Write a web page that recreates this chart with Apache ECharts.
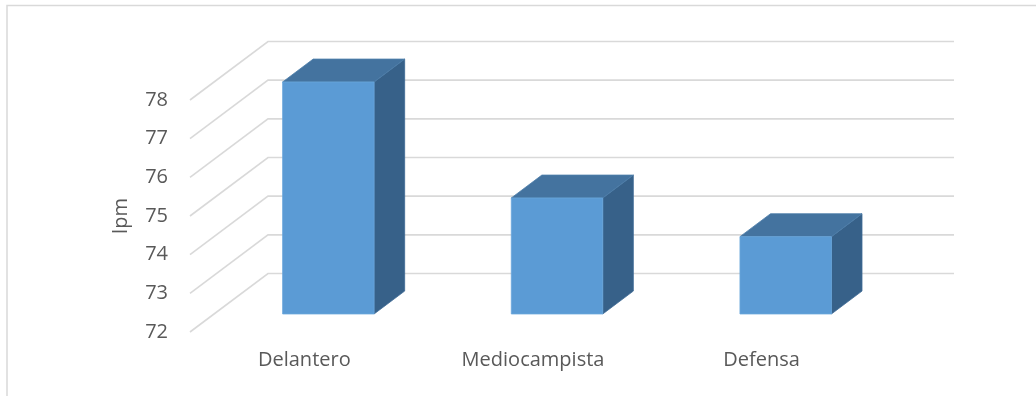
<!DOCTYPE html>
<html><head><meta charset="utf-8">
<script src="https://cdn.jsdelivr.net/npm/echarts@6/dist/echarts.min.js"></script>
<style>html,body{margin:0;padding:0;background:#fff}#c{width:1036px;height:396px}</style>
</head><body><div id="c"></div>
<script>
const categories = ['Delantero', 'Mediocampista', 'Defensa'];
const values = [78, 75, 74];
const yTicks = [72, 73, 74, 75, 76, 77, 78];
const yName = 'lpm';

const Y_MIN = 72, Y_MAX = 78;
const DX = 78, DY = 58.5;      // depth projection in pixels
const F1 = 0.308, F2 = 0.70;   // bar depth range (fraction of floor depth)
const BAR_W = 0.40;            // bar width as fraction of band
const FONT = 'Open Sans';
const TXT = '#595959';

const chart = echarts.init(document.getElementById('c'), null, {renderer: 'canvas'});

function renderGrid(params, api) {
  const v = api.value(0);
  const cs = params.coordSys;
  const y = api.coord([0, v])[1];
  return {
    type: 'polyline',
    shape: {points: [[cs.x, y], [cs.x + DX, y - DY], [cs.x + cs.width + DX, y - DY]]},
    style: {stroke: '#d9d9d9', lineWidth: 1.6, fill: null},
    silent: true
  };
}

function renderBar(params, api) {
  const i = api.value(0), v = api.value(1);
  const top = api.coord([i, v]);
  const base = api.coord([i, Y_MIN]);
  const bw = api.size([1, 0])[0] * BAR_W;
  const x0 = top[0] - bw / 2, x1 = top[0] + bw / 2;
  const ax = DX * F1, ay = -DY * F1, bx = DX * F2, by = -DY * F2;
  const tY = top[1], bY = base[1];
  const side = [[x1 + ax, tY + ay], [x1 + bx, tY + by], [x1 + bx, bY + by], [x1 + ax, bY + ay]];
  const topF = [[x0 + ax, tY + ay], [x0 + bx, tY + by], [x1 + bx, tY + by], [x1 + ax, tY + ay]];
  const front = [[x0 + ax, tY + ay], [x1 + ax, tY + ay], [x1 + ax, bY + ay], [x0 + ax, bY + ay]];
  return {
    type: 'group',
    children: [
      {type: 'polygon', shape: {points: side}, style: {fill: '#376189', stroke: '#3d6a94', lineWidth: 0.8}},
      {type: 'polygon', shape: {points: topF}, style: {fill: '#44739f', stroke: '#4c7daa', lineWidth: 0.8}},
      {type: 'polygon', shape: {points: front}, style: {fill: '#5b9bd5', stroke: '#6aa6dc', lineWidth: 0.8}}
    ]
  };
}

chart.setOption({
  animation: false,
  backgroundColor: '#ffffff',
  graphic: [{
    type: 'rect', z: 0, silent: true,
    shape: {x: 7, y: 5.5, width: 1200, height: 600},
    style: {fill: null, stroke: '#d9d9d9', lineWidth: 1.5}
  }],
  grid: {left: 190, right: 160, top: 100, bottom: 64},
  xAxis: {
    type: 'category', data: categories,
    axisLine: {show: false}, axisTick: {show: false}, splitLine: {show: false},
    axisLabel: {color: TXT, fontSize: 20, fontFamily: FONT, margin: 18}
  },
  yAxis: {
    type: 'value', min: Y_MIN, max: Y_MAX, interval: 1,
    axisLine: {show: false}, axisTick: {show: false}, splitLine: {show: false},
    axisLabel: {color: TXT, fontSize: 20, fontFamily: FONT, margin: 22},
    name: yName, nameLocation: 'middle', nameGap: 59,
    nameTextStyle: {color: TXT, fontSize: 20, fontFamily: FONT}
  },
  series: [
    {type: 'custom', renderItem: renderGrid, data: yTicks.map(v => [v]), clip: false, z: 1, silent: true,
     encode: {y: 0}},
    {type: 'custom', renderItem: renderBar, data: values.map((v, i) => [i, v]), clip: false, z: 2,
     encode: {x: 0, y: 1}}
  ]
});
</script></body></html>
